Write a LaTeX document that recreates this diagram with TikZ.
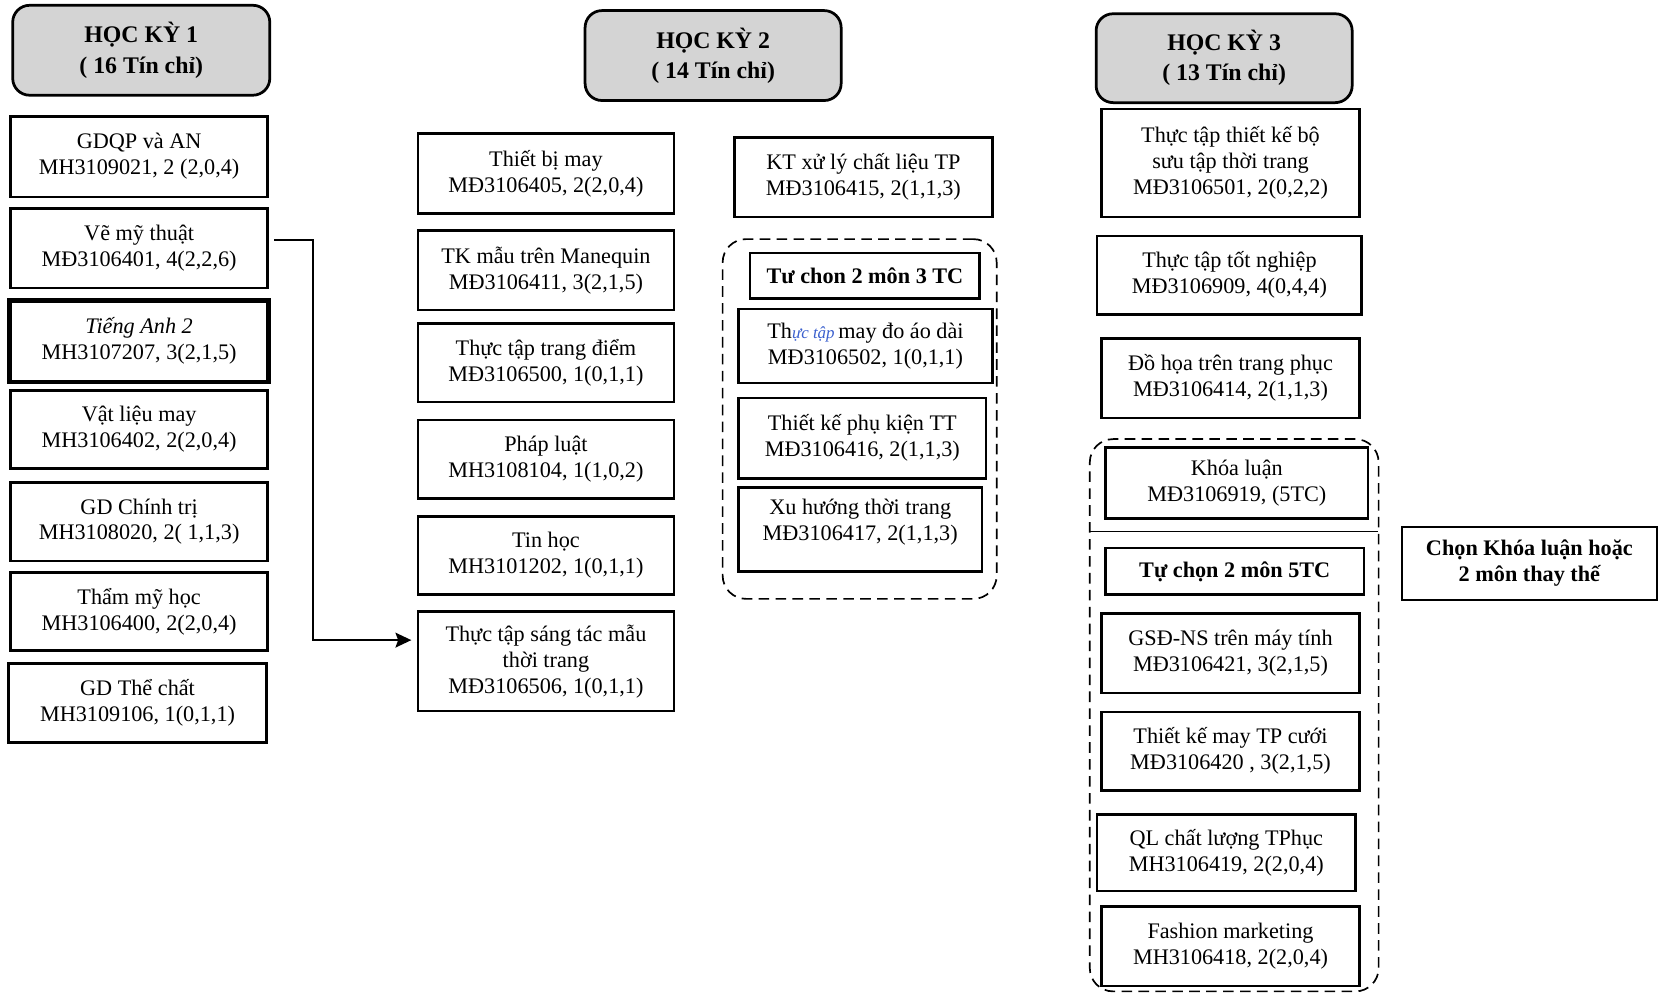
\documentclass[tikz,border=0pt]{standalone}
\usepackage{fontspec}
\setmainfont{Liberation Serif}
\usetikzlibrary{arrows.meta}
\definecolor{hdrgray}{HTML}{D4D4D4}
\definecolor{handblue}{HTML}{3A5FCD}
\begin{document}
\begin{tikzpicture}[x=1pt,y=-1pt,
  box/.style={draw, line width=2.4pt, inner sep=0pt, align=center, font=\fontsize{21}{24.5}\selectfont},
  hdr/.style={box, fill=hdrgray, rounded corners=16pt, line width=2.6pt, font=\bfseries\fontsize{22.5}{28.5}\selectfont},
  bbox/.style={box, font=\bfseries\fontsize{21}{24.5}\selectfont},
  grp/.style={draw, line width=1.6pt, dash pattern=on 10pt off 6pt, rounded corners=22pt, inner sep=0pt},
  conn/.style={line width=1.9pt, -{Stealth[length=15pt,width=14pt,inset=2.5pt]}}
]
\useasboundingbox (0,0) rectangle (1568,938);

% ---------- Hoc ky 1 ----------
\node[hdr, minimum width=243pt, minimum height=85pt] (hk1) at (133.5,47.5) {HỌC KỲ 1\\( 16 Tín chỉ)};
\node[box, minimum width=243pt, minimum height=76pt] (gdqp) at (131.5,148) {GDQP và AN\\MH3109021, 2 (2,0,4)};
\node[box, minimum width=243pt, minimum height=75pt] (ve) at (131.5,234.5) {Vẽ mỹ thuật\\MĐ3106401, 4(2,2,6)};
\node[box, line width=4.5pt, minimum width=245pt, minimum height=77pt] (ta2) at (131.5,322.5) {\itshape Tiếng Anh 2\\MH3107207, 3(2,1,5)};
\node[box, minimum width=243pt, minimum height=74pt] (vl) at (131.5,406) {Vật liệu may\\MH3106402, 2(2,0,4)};
\node[box, minimum width=243pt, minimum height=74pt] (gdct) at (131.5,493) {GD Chính trị\\MH3108020, 2( 1,1,3)};
\node[box, minimum width=243pt, minimum height=74pt] (tmh) at (131.5,578) {Thẩm mỹ học\\MH3106400, 2(2,0,4)};
\node[box, minimum width=244pt, minimum height=75pt] (gdtc) at (130,664.5) {GD Thể chất\\MH3109106, 1(0,1,1)};

% ---------- Hoc ky 2 ----------
\node[hdr, minimum width=242pt, minimum height=85pt] (hk2) at (674,52.5) {HỌC KỲ 2\\( 14 Tín chỉ)};
\node[box, minimum width=242pt, minimum height=76pt] (tbm) at (516,164) {Thiết bị may\\MĐ3106405, 2(2,0,4)};
\node[box, minimum width=242pt, minimum height=75pt] (tkm) at (516,255.5) {TK mẫu trên Manequin\\MĐ3106411, 3(2,1,5)};
\node[box, minimum width=242pt, minimum height=74pt] (tttd) at (516,343) {Thực tập trang điểm\\MĐ3106500, 1(0,1,1)};
\node[box, minimum width=242pt, minimum height=74pt] (pl) at (516,434) {Pháp luật\\MH3108104, 1(1,0,2)};
\node[box, minimum width=242pt, minimum height=74pt] (th) at (516,525) {Tin học\\MH3101202, 1(0,1,1)};
\node[box, minimum width=242pt, minimum height=94pt] (ttst) at (516,625) {Thực tập sáng tác mẫu\\thời trang\\MĐ3106506, 1(0,1,1)};

\node[box, minimum width=244pt, minimum height=75pt] (kt) at (816,167.5) {KT xử lý chất liệu TP\\MĐ3106415, 2(1,1,3)};
\node[grp, minimum width=259pt, minimum height=340pt] (g2) at (812.5,396) {};
\node[bbox, minimum width=217pt, minimum height=43pt] (tc3) at (817.5,260.5) {Tư chon 2 môn 3 TC};
\node[box, minimum width=240pt, minimum height=70pt] (ttmd) at (818,327) {Th\textcolor{handblue}{\itshape\fontsize{16}{16}\selectfont ực tập}\,may đo áo dài\\MĐ3106502, 1(0,1,1)};
\node[box, minimum width=234pt, minimum height=76pt] (tkpk) at (815,414) {Thiết kế phụ kiện TT\\MĐ3106416, 2(1,1,3)};
\node[box, minimum width=230pt, minimum height=79pt] (xh) at (813,500.5) {Xu hướng thời trang\\MĐ3106417, 2(1,1,3)\\[-6pt]};

% ---------- Hoc ky 3 ----------
\node[hdr, minimum width=242pt, minimum height=84pt] (hk3) at (1157,55) {HỌC KỲ 3\\( 13 Tín chỉ)};
\node[box, minimum width=244pt, minimum height=102pt] (tttk) at (1163,154) {Thực tập thiết kế bộ\\sưu tập thời trang\\MĐ3106501, 2(0,2,2)};
\node[box, minimum width=250pt, minimum height=74pt] (tttn) at (1162,260) {Thực tập tốt nghiệp\\MĐ3106909, 4(0,4,4)};
\node[box, minimum width=244pt, minimum height=75pt] (dh) at (1163,357.5) {Đồ họa trên trang phục\\MĐ3106414, 2(1,1,3)};

\node[grp, minimum width=273pt, minimum height=522pt] (g3) at (1166.5,676) {};
\coordinate (sepl) at (1030,502);
\coordinate (sepr) at (1302,502);
\draw[line width=1pt] (sepl) -- (sepr);
\node[box, minimum width=248pt, minimum height=67pt] (kl) at (1169,456.5) {Khóa luận\\MĐ3106919, (5TC)};
\node[bbox, minimum width=244pt, minimum height=44pt] (tc5) at (1167,540) {Tự chọn 2 môn 5TC};
\node[box, minimum width=244pt, minimum height=75pt] (gsd) at (1163,617.5) {GSĐ-NS trên máy tính\\MĐ3106421, 3(2,1,5)};
\node[box, minimum width=244pt, minimum height=74pt] (tkmc) at (1163,710) {Thiết kế may TP cưới\\MĐ3106420 , 3(2,1,5)};
\node[box, minimum width=244pt, minimum height=72pt] (ql) at (1159,806) {QL chất lượng TPhục\\MH3106419, 2(2,0,4)};
\node[box, minimum width=244pt, minimum height=75pt] (fm) at (1163,894.5) {Fashion marketing\\MH3106418, 2(2,0,4)};

\node[bbox, minimum width=241pt, minimum height=69pt] (chon) at (1445.5,532.5) {Chọn Khóa luận hoặc\\2 môn thay thế};

% ---------- connector ----------
\coordinate (s1) at ([xshift=5pt,yshift=7.5pt]ve.east);
\coordinate (c1) at (296,227);
\coordinate (c2) at (296,605);
\coordinate (e1) at ([xshift=-5pt]ttst.west);
\draw[conn] (s1) -- (c1) -- (c2) -- (e1 |- c2);
\end{tikzpicture}
\end{document}
